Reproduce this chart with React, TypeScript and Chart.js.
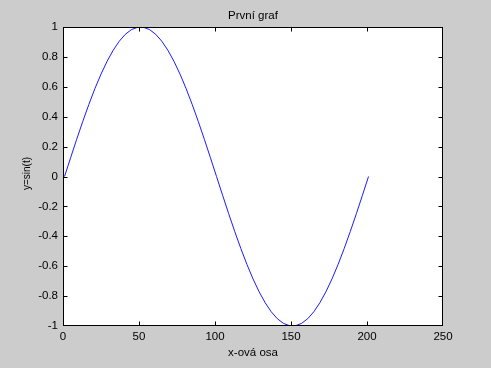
import React, { useEffect, useRef } from "react";
import { Chart, registerables } from "chart.js";

Chart.register(...registerables);

const titleText = "První graf";
const xAxisTitle = "x-ová osa";
const yAxisTitle = "y=sin(t)";

const xValues = [
  1, 5, 9, 13, 17, 21, 25, 29, 33, 37, 41, 45, 49, 53, 57, 61, 65, 69, 73, 77, 81,
  85, 89, 93, 97, 101, 105, 109, 113, 117, 121, 125, 129, 133, 137, 141, 145, 149,
  153, 157, 161, 165, 169, 173, 177, 181, 185, 189, 193, 197, 201,
];
const yValues = [
  0, 0.1253, 0.2487, 0.3681, 0.4818, 0.5878, 0.6845, 0.7705, 0.8443, 0.9048, 0.9511,
  0.9823, 0.998, 0.998, 0.9823, 0.9511, 0.9048, 0.8443, 0.7705, 0.6845, 0.5878,
  0.4818, 0.3681, 0.2487, 0.1253, 0, -0.1253, -0.2487, -0.3681, -0.4818, -0.5878,
  -0.6845, -0.7705, -0.8443, -0.9048, -0.9511, -0.9823, -0.998, -0.998, -0.9823,
  -0.9511, -0.9048, -0.8443, -0.7705, -0.6845, -0.5878, -0.4818, -0.3681, -0.2487,
  -0.1253, 0,
];
const xTicks = [0, 50, 100, 150, 200, 250];
const yTicks = [-1, -0.8, -0.6, -0.4, -0.2, 0, 0.2, 0.4, 0.6, 0.8, 1];

const FONT = '"Liberation Sans", Arial, sans-serif';

const framePlugin = {
  id: "matlabFrame",
  beforeDraw(chart: any) {
    const { ctx, chartArea: a } = chart;
    ctx.save();
    ctx.fillStyle = "#ffffff";
    ctx.fillRect(a.left, a.top, a.right - a.left, a.bottom - a.top);
    ctx.restore();
  },
  afterDraw(chart: any) {
    const { ctx, chartArea: a } = chart;
    const xs = chart.scales.x;
    const ys = chart.scales.y;
    ctx.save();
    ctx.strokeStyle = "#000000";
    ctx.lineWidth = 1;
    const L = Math.round(a.left) + 0.5;
    const R = Math.round(a.right) - 0.5;
    const T = Math.round(a.top) + 0.5;
    const B = Math.round(a.bottom) - 0.5;
    ctx.strokeRect(L, T, R - L, B - T);
    const tl = 4;
    const clamp = (v: number, lo: number, hi: number) => Math.min(Math.max(v, lo), hi);
    ctx.beginPath();
    xs.ticks.forEach((_t: any, i: number) => {
      const px = clamp(Math.round(xs.getPixelForTick(i)) + 0.5, L, R);
      ctx.moveTo(px, B);
      ctx.lineTo(px, B - tl);
      ctx.moveTo(px, T);
      ctx.lineTo(px, T + tl);
    });
    ys.ticks.forEach((_t: any, i: number) => {
      const py = clamp(Math.round(ys.getPixelForTick(i)) + 0.5, T, B);
      ctx.moveTo(L, py);
      ctx.lineTo(L + tl, py);
      ctx.moveTo(R, py);
      ctx.lineTo(R - tl, py);
    });
    ctx.stroke();

    ctx.fillStyle = "#000000";
    ctx.textAlign = "center";
    ctx.textBaseline = "alphabetic";
    ctx.font = `11.5px ${FONT}`;
    const cx = (a.left + a.right) / 2;
    ctx.fillText(titleText, cx, a.top - 8);
    ctx.fillText(xAxisTitle, cx, a.bottom + 30);
    ctx.translate(a.left - 36, (a.top + a.bottom) / 2 - 3);
    ctx.rotate(-Math.PI / 2);
    ctx.font = `10px ${FONT}`;
    ctx.textBaseline = "middle";
    ctx.fillText(yAxisTitle, 0, 0);
    ctx.restore();
  },
};

export default function App() {
  const ref = useRef<HTMLCanvasElement | null>(null);
  useEffect(() => {
    if (!ref.current) return;
    const chart = new Chart(ref.current, {
      type: "scatter",
      data: {
        datasets: [
          {
            data: xValues.map((x, i) => ({ x, y: yValues[i] })),
            showLine: true,
            borderColor: "#1a1aff",
            borderWidth: 1,
            pointRadius: 0,
            fill: false,
          },
        ],
      },
      options: {
        animation: false,
        responsive: false,
        maintainAspectRatio: false,
        layout: { padding: { top: 27, right: 48, left: 0, bottom: 0 } },
        plugins: { legend: { display: false }, tooltip: { enabled: false }, title: { display: false } },
        scales: {
          x: {
            type: "linear",
            min: 0,
            max: 250,
            afterBuildTicks: (s: any) => {
              s.ticks = xTicks.map((v) => ({ value: v }));
            },
            afterFit: (s: any) => {
              s.height = 42;
            },
            grid: { display: false, drawTicks: false },
            border: { display: false },
            ticks: { padding: 4, color: "#000", font: { family: FONT, size: 11.5 }, maxRotation: 0, autoSkip: false },
          },
          y: {
            type: "linear",
            min: -1,
            max: 1,
            afterBuildTicks: (s: any) => {
              s.ticks = yTicks.map((v) => ({ value: v }));
            },
            afterFit: (s: any) => {
              s.width = 63;
            },
            grid: { display: false, drawTicks: false },
            border: { display: false },
            ticks: {
              padding: 5,
              color: "#000",
              font: { family: FONT, size: 11.5 },
              autoSkip: false,
              callback: (v: any) => String(Math.round(Number(v) * 10) / 10),
            },
          },
        },
      },
      plugins: [framePlugin],
    });
    return () => chart.destroy();
  }, []);
  return (
    <div style={{ position: "fixed", left: 0, top: 0, width: 491, height: 368, background: "#cccccc" }}>
      <canvas ref={ref} width={491} height={368} style={{ width: 491, height: 368, display: "block" }} />
    </div>
  );
}
